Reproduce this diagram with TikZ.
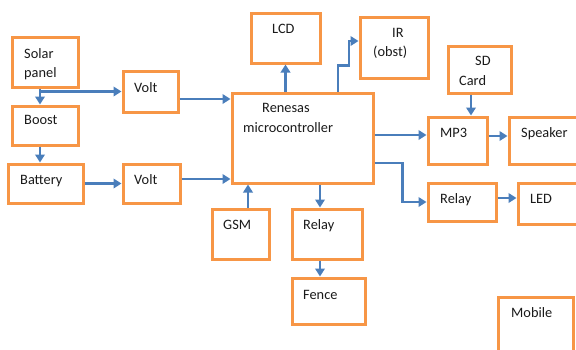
\documentclass[tikz,border=0pt]{standalone}
\usepackage{fontspec}
\setmainfont{Carlito}
\usetikzlibrary{arrows.meta}
\definecolor{boxorange}{HTML}{F79646}
\definecolor{arrblue}{HTML}{4A7EBB}
\definecolor{txtgray}{HTML}{1A1A1A}
\begin{document}
\begin{tikzpicture}[x=1bp,y=-1bp,
  box/.style={draw=boxorange,line width=3bp,inner sep=0pt,rectangle},
  arr/.style={draw=arrblue,line width=2.9bp,-{Triangle[length=8bp,width=9.5bp]}},
  lbl/.style={inner sep=0pt,anchor=base west,text=txtgray,font=\fontsize{14.4}{17}\selectfont}]
\fill[white] (0,0) rectangle (576,349);
\useasboundingbox (0,0) rectangle (576,349);
% boxes
\node[box,minimum width=65bp,minimum height=50bp] (solar) at (45.5,62) {};
\node[box,minimum width=65bp,minimum height=39bp] (boost) at (45.5,125.5) {};
\node[box,minimum width=74bp,minimum height=39bp] (battery) at (46,183.5) {};
\node[box,minimum width=55bp,minimum height=41bp] (volt1) at (150.5,91.5) {};
\node[box,minimum width=57bp,minimum height=39bp] (volt2) at (151.5,183.5) {};
\node[box,minimum width=141bp,minimum height=90bp] (renesas) at (302.5,138) {};
\node[box,minimum width=69bp,minimum height=50bp] (lcd) at (285.5,38) {};
\node[box,minimum width=68bp,minimum height=61bp] (ir) at (394,47.5) {};
\node[box,minimum width=63bp,minimum height=47bp] (sd) at (479.5,69.5) {};
\node[box,minimum width=59bp,minimum height=47bp] (mp3) at (457.5,140.5) {};
\node[box,minimum width=81bp,minimum height=47bp] (speaker) at (549.5,140.5) {};
\node[box,minimum width=68bp,minimum height=38bp] (relayr) at (462,202) {};
\node[box,minimum width=72bp,minimum height=41bp] (led) at (554,203.5) {};
\node[box,minimum width=57bp,minimum height=50bp] (gsm) at (240.5,234) {};
\node[box,minimum width=70bp,minimum height=50bp] (relaym) at (327,234) {};
\node[box,minimum width=73bp,minimum height=46bp] (fence) at (328.5,301) {};
\node[box,minimum width=75bp,minimum height=73bp] (mobile) at (535.5,333.5) {};
% labels
\node[lbl] (tsolar) at (24,58) {Solar};
\node[lbl] (tpanel) at (24,77) {panel};
\node[lbl] (tboost) at (24,124) {Boost};
\node[lbl] (tbattery) at (20,184) {Battery};
\node[lbl] (tvolt1) at (134,92) {Volt};
\node[lbl] (tvolt2) at (134,184) {Volt};
\node[lbl] (trenesas) at (262,112) {Renesas};
\node[lbl] (tmicro) at (243,132) {microcontroller};
\node[lbl] (tlcd) at (272,33) {LCD};
\node[lbl] (tir) at (392,37) {IR};
\node[lbl] (tobst) at (373,56) {(obst)};
\node[lbl] (tsd) at (475,65) {SD};
\node[lbl] (tcard) at (459,85) {Card};
\node[lbl] (tmp3) at (440,137) {MP3};
\node[lbl] (tspeaker) at (521,137) {Speaker};
\node[lbl] (trelayr) at (440,203) {Relay};
\node[lbl] (tled) at (530,203) {LED};
\node[lbl] (tgsm) at (223,229) {GSM};
\node[lbl] (trelaym) at (303,229) {Relay};
\node[lbl] (tfence) at (303,299) {Fence};
\node[lbl] (tmobile) at (511,317) {Mobile};
% helper coordinates
\coordinate (s1) at ([xshift=-5.5bp]solar.south);
\coordinate (v1) at ([yshift=-7.5bp]volt1.east);
\coordinate (b1) at ([xshift=-5.5bp]boost.south);
\coordinate (v2) at ([yshift=4.5bp]volt2.east);
\coordinate (g1) at ([xshift=7.5bp]gsm.north);
\coordinate (r1) at ([xshift=-7bp]relaym.north);
\coordinate (r2) at ([xshift=-7bp]relaym.south);
\coordinate (i0) at ([xshift=35.5bp]renesas.north);
\coordinate (i1) at ([yshift=6.5bp]ir.west);
\coordinate (m1) at ([yshift=5.5bp]mp3.west);
\coordinate (q0) at ([yshift=-25bp]renesas.east);
\coordinate (l1) at ([yshift=4bp]relayr.east);
\coordinate (d1) at ([xshift=-8.5bp]sd.south);
\coordinate (p1) at ([yshift=4.5bp]mp3.east);
% connectors
\draw[arr] (s1) -- (s1 |- boost.north);
\draw[arr] (s1 |- volt1.west) -- (volt1.west);
\draw[arr] (v1) -- (v1 -| renesas.west);
\draw[arr] (b1) -- (b1 |- battery.north);
\draw[arr] (battery.east) -- (battery.east -| volt2.west);
\draw[arr] (v2) -- (v2 -| renesas.west);
\draw[arr] (g1) -- (g1 |- renesas.south);
\draw[arr] (r1 |- renesas.south) -- (r1);
\draw[arr] (r2) -- (r2 |- fence.north);
\draw[arr] (lcd.south |- renesas.north) -- (lcd.south);
\draw[arr] (i0) -- ++(0,-26) -- ++(11,0) |- (i1);
\draw[arr] (m1 -| renesas.east) -- (m1);
\draw[arr] (q0) -- ++(28,0) |- (relayr.west);
\draw[arr] (l1) -- (l1 -| led.west);
\draw[arr] (d1) -- (d1 |- mp3.north);
\draw[arr] (p1) -- (p1 -| speaker.west);
\end{tikzpicture}
\end{document}
